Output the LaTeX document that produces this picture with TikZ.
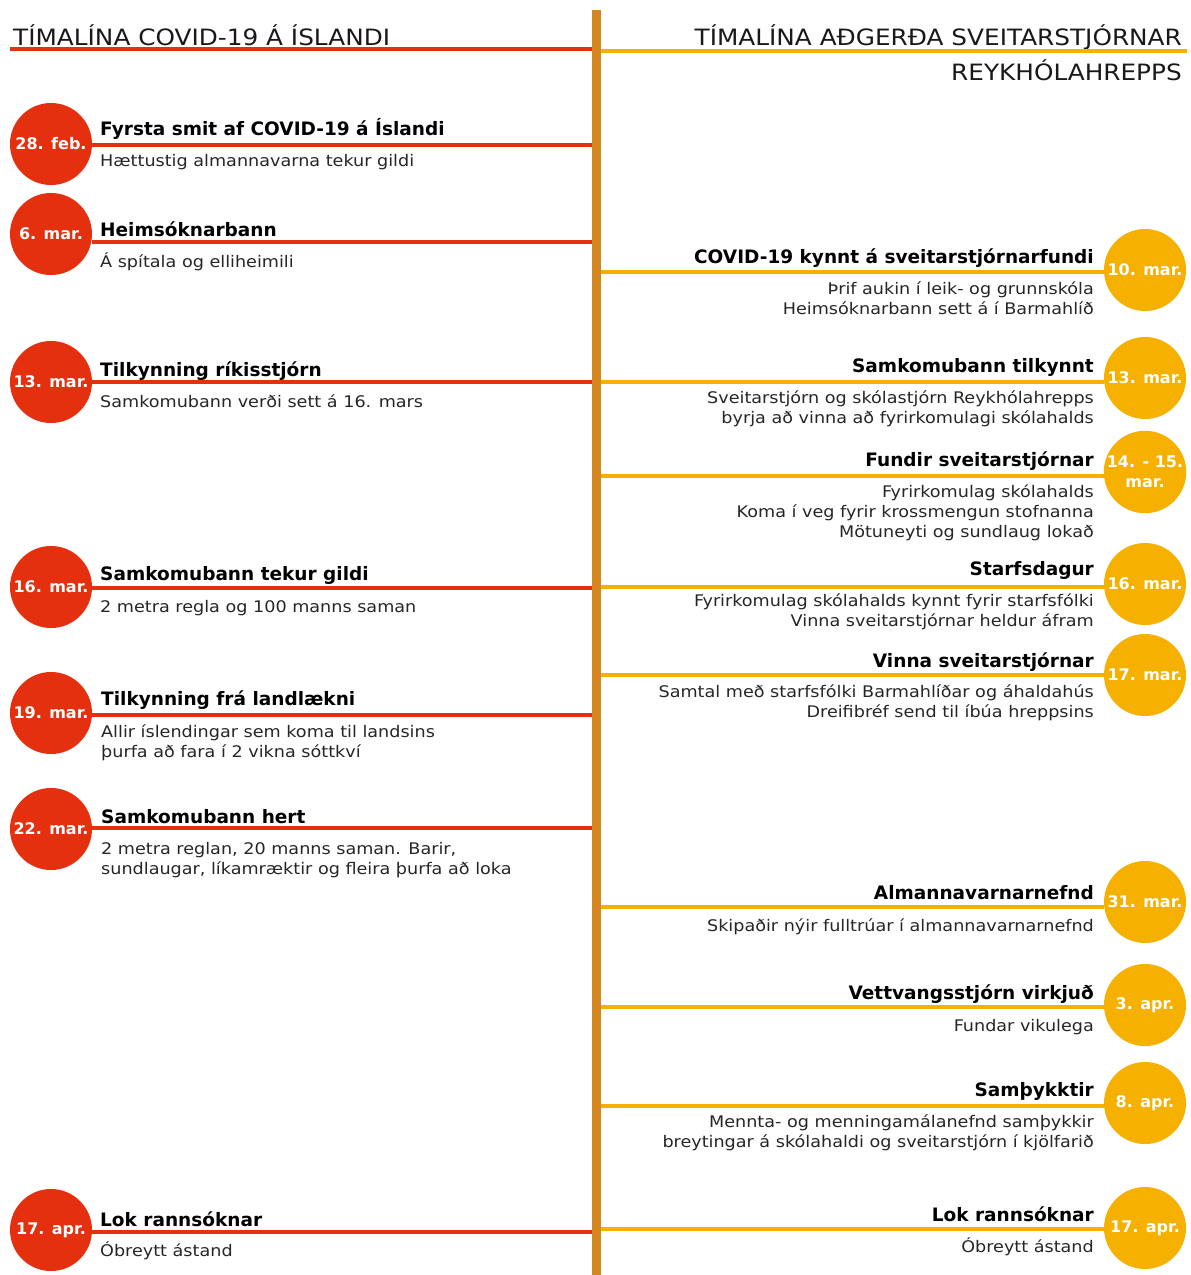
\documentclass[tikz,border=0pt]{standalone}
\usepackage{fontspec}
\setmainfont{DejaVu Sans}
\newfontfamily\widefont{DejaVu Sans}[FakeStretch=1.1]
\definecolor{covred}{HTML}{E4300E}
\definecolor{sveityellow}{HTML}{F5B000}
\definecolor{barbrown}{HTML}{D4871E}
\begin{document}
\begin{tikzpicture}[x=1pt,y=-1pt,
  every node/.style={inner sep=0pt},
  head/.style={font=\widefont\fontsize{22.5}{26}\selectfont, text=black!90},
  ttl/.style={font=\fontsize{18.5}{20}\selectfont\bfseries},
  sub/.style={font=\widefont\fontsize{16}{20}\selectfont, text=black!85},
  redday/.style={circle, fill=covred, minimum size=82pt, text=white,
    align=center, font=\fontsize{16}{20}\selectfont\bfseries},
  yelday/.style={redday, fill=sveityellow},
  redline/.style={covred, line width=4pt},
  yelline/.style={sveityellow, line width=4pt}]
\useasboundingbox (0,0) rectangle (1191,1275);
% headers
\node[head, anchor=base west] (hl) at (13,45) {TÍMALÍNA COVID-19 Á ÍSLANDI};
\node[head, anchor=base east] (hr) at (1182,45) {TÍMALÍNA AÐGERÐA SVEITARSTJÓRNAR};
\node[head, anchor=base east] (hr2) at (1182,80) {REYKHÓLAHREPPS};
\coordinate (hlA) at (10,48.5);
\coordinate (hlB) at (596,48.5);
\coordinate (hrA) at (596,50.5);
\coordinate (hrB) at (1187,50.5);
\draw[redline] (hlA) -- (hlB);
\draw[yelline] (hrA) -- (hrB);
% left timeline
\node[redday] (d1) at (51,144) {28. feb.};
\coordinate (l1) at (596,145);
\draw[redline] (l1 -| d1.east) -- (l1);
\node[ttl, anchor=base west] (t1) at (100,135) {Fyrsta smit af COVID-19 á Íslandi};
\node[sub, anchor=base west] (s1) at (100,166) {Hættustig almannavarna tekur gildi};
\node[redday] (d2) at (51,234) {6. mar.};
\coordinate (l2) at (596,242);
\draw[redline] (l2 -| d2.east) -- (l2);
\node[ttl, anchor=base west] (t2) at (100,236) {Heimsóknarbann};
\node[sub, anchor=base west] (s2) at (100,267) {Á spítala og elliheimili};
\node[redday] (d3) at (51,382) {13. mar.};
\coordinate (l3) at (596,382);
\draw[redline] (l3 -| d3.east) -- (l3);
\node[ttl, anchor=base west] (t3) at (100,376) {Tilkynning ríkisstjórn};
\node[sub, anchor=base west] (s3) at (100,407) {Samkomubann verði sett á 16. mars};
\node[redday] (d4) at (51,587) {16. mar.};
\coordinate (l4) at (596,588);
\draw[redline] (l4 -| d4.east) -- (l4);
\node[ttl, anchor=base west] (t4) at (100,580) {Samkomubann tekur gildi};
\node[sub, anchor=base west] (s4) at (100,612) {2 metra regla og 100 manns saman};
\node[redday] (d5) at (51,713) {19. mar.};
\coordinate (l5) at (596,715);
\draw[redline] (l5 -| d5.east) -- (l5);
\node[ttl, anchor=base west] (t5) at (101,705) {Tilkynning frá landlækni};
\node[sub, anchor=base west, align=left] (s5) at (101,757)
  {Allir íslendingar sem koma til landsins\\þurfa að fara í 2 vikna sóttkví};
\node[redday] (d6) at (51,829) {22. mar.};
\coordinate (l6) at (596,828);
\draw[redline] (l6 -| d6.east) -- (l6);
\node[ttl, anchor=base west] (t6) at (101,823) {Samkomubann hert};
\node[sub, anchor=base west, align=left] (s6) at (101,874)
  {2 metra reglan, 20 manns saman. Barir,\\sundlaugar, líkamræktir og fleira þurfa að loka};
\node[redday] (d7) at (51,1230) {17. apr.};
\coordinate (l7) at (596,1232);
\draw[redline] (l7 -| d7.east) -- (l7);
\node[ttl, anchor=base west] (t7) at (100,1226) {Lok rannsóknar};
\node[sub, anchor=base west] (s7) at (100,1256) {Óbreytt ástand};
% right timeline
\node[yelday] (e1) at (1145,270) {10. mar.};
\coordinate (r1) at (596,272);
\draw[yelline] (r1) -- (r1 -| e1.west);
\node[ttl, anchor=base east] (u1) at (1094,263) {COVID-19 kynnt á sveitarstjórnarfundi};
\node[sub, anchor=base east, align=right] (v1) at (1094,314)
  {Þrif aukin í leik- og grunnskóla\\Heimsóknarbann sett á í Barmahlíð};
\node[yelday] (e2) at (1145,378) {13. mar.};
\coordinate (r2) at (596,382);
\draw[yelline] (r2) -- (r2 -| e2.west);
\node[ttl, anchor=base east] (u2) at (1094,372) {Samkomubann tilkynnt};
\node[sub, anchor=base east, align=right] (v2) at (1094,423)
  {Sveitarstjórn og skólastjórn Reykhólahrepps\\byrja að vinna að fyrirkomulagi skólahalds};
\node[yelday] (e3) at (1145,472) {14. - 15.\\mar.};
\coordinate (r3) at (596,476);
\draw[yelline] (r3) -- (r3 -| e3.west);
\node[ttl, anchor=base east] (u3) at (1094,466) {Fundir sveitarstjórnar};
\node[sub, anchor=base east, align=right] (v3) at (1094,537)
  {Fyrirkomulag skólahalds\\Koma í veg fyrir krossmengun stofnanna\\Mötuneyti og sundlaug lokað};
\node[yelday] (e4) at (1145,584) {16. mar.};
\coordinate (r4) at (596,587);
\draw[yelline] (r4) -- (r4 -| e4.west);
\node[ttl, anchor=base east] (u4) at (1094,575) {Starfsdagur};
\node[sub, anchor=base east, align=right] (v4) at (1094,626)
  {Fyrirkomulag skólahalds kynnt fyrir starfsfólki\\Vinna sveitarstjórnar heldur áfram};
\node[yelday] (e5) at (1145,675) {17. mar.};
\coordinate (r5) at (596,675);
\draw[yelline] (r5) -- (r5 -| e5.west);
\node[ttl, anchor=base east] (u5) at (1094,667) {Vinna sveitarstjórnar};
\node[sub, anchor=base east, align=right] (v5) at (1094,717)
  {Samtal með starfsfólki Barmahlíðar og áhaldahús\\Dreifibréf send til íbúa hreppsins};
\node[yelday] (e6) at (1145,902) {31. mar.};
\coordinate (r6) at (596,907);
\draw[yelline] (r6) -- (r6 -| e6.west);
\node[ttl, anchor=base east] (u6) at (1094,899) {Almannavarnarnefnd};
\node[sub, anchor=base east] (v6) at (1094,931) {Skipaðir nýir fulltrúar í almannavarnarnefnd};
\node[yelday] (e7) at (1145,1005) {3. apr.};
\coordinate (r7) at (596,1007);
\draw[yelline] (r7) -- (r7 -| e7.west);
\node[ttl, anchor=base east] (u7) at (1094,999) {Vettvangsstjórn virkjuð};
\node[sub, anchor=base east] (v7) at (1094,1031) {Fundar vikulega};
\node[yelday] (e8) at (1145,1103) {8. apr.};
\coordinate (r8) at (596,1106);
\draw[yelline] (r8) -- (r8 -| e8.west);
\node[ttl, anchor=base east] (u8) at (1094,1096) {Samþykktir};
\node[sub, anchor=base east, align=right] (v8) at (1094,1147)
  {Mennta- og menningamálanefnd samþykkir\\breytingar á skólahaldi og sveitarstjórn í kjölfarið};
\node[yelday] (e9) at (1145,1228) {17. apr.};
\coordinate (r9) at (596,1229);
\draw[yelline] (r9) -- (r9 -| e9.west);
\node[ttl, anchor=base east] (u9) at (1094,1221) {Lok rannsóknar};
\node[sub, anchor=base east] (v9) at (1094,1252) {Óbreytt ástand};
% central bar
\coordinate (barTop) at (596.5,10);
\coordinate (barBot) at (596.5,1275);
\draw[barbrown, line width=9pt] (barTop) -- (barBot);
\end{tikzpicture}
\end{document}
